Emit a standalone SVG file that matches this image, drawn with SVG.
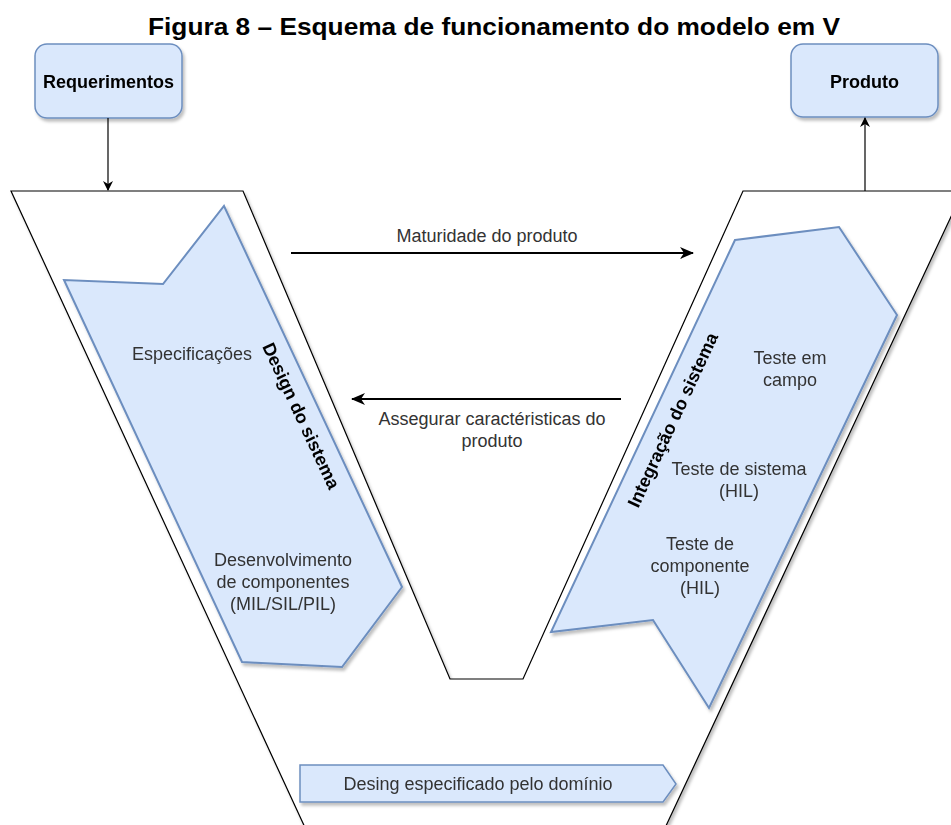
<svg xmlns="http://www.w3.org/2000/svg" width="951" height="825" viewBox="0 0 951 825">
<defs>
<style>
.box{fill:#dae8fc;stroke:#6c8ebf;stroke-width:1.5}
.blue{fill:#dae8fc;stroke:#6c8ebf;stroke-width:2}
.v{fill:#fff;stroke:#000;stroke-width:1.2}
.t{font-family:"Liberation Sans",Arial,sans-serif;font-size:18px;fill:#333;text-anchor:middle}
.b{font-family:"Liberation Sans",Arial,sans-serif;font-size:18px;font-weight:bold;fill:#000;text-anchor:middle}
.ln{stroke:#000;stroke-width:1.2;fill:none}
.ln2{stroke:#000;stroke-width:2;fill:none}
</style>
<filter id="sh" x="-10%" y="-10%" width="130%" height="130%">
<feDropShadow dx="2" dy="3" stdDeviation="1.5" flood-color="#000" flood-opacity="0.25"/>
</filter>
<marker id="ah" markerWidth="10" markerHeight="10" refX="9" refY="5" orient="auto" markerUnits="userSpaceOnUse">
<path d="M0,0 L10,5 L0,10 L3,5 Z" fill="#000"/>
</marker>
<marker id="ah2" markerWidth="14" markerHeight="12" refX="13" refY="6" orient="auto" markerUnits="userSpaceOnUse">
<path d="M0,0 L14,6 L0,12 L4,6 Z" fill="#000"/>
</marker>
</defs>
<rect width="951" height="825" fill="#fff"/>
<text x="494" y="35" font-family="Liberation Sans,Arial,sans-serif" font-size="24" font-weight="bold" text-anchor="middle" textLength="692" lengthAdjust="spacingAndGlyphs">Figura 8 – Esquema de funcionamento do modelo em V</text>

<g id="v-shape" filter="url(#sh)">
<path class="v" d="M11,191 L243,191 L450,679 L523,679 L743,191 L963,191 L650,860 L320,860 Z"/>
</g>

<g id="requerimentos" filter="url(#sh)">
<rect class="box" x="35" y="44" width="147" height="74" rx="12"/>
<text class="b" x="108.5" y="88">Requerimentos</text>
</g>
<g id="produto" filter="url(#sh)">
<rect class="box" x="791" y="44" width="147" height="73" rx="12"/>
<text class="b" x="864.5" y="88">Produto</text>
</g>

<g id="design" filter="url(#sh)">
<path class="blue" d="M224,206 L402,587 L342,667 L242,662 L64,280 L163,284 Z"/>
<text class="t" x="192" y="360">Especificações</text>
<text class="b" transform="translate(301,416) rotate(65)" x="0" y="6">Design do sistema</text>
<text class="t" x="283" y="566">Desenvolvimento</text>
<text class="t" x="283" y="588">de componentes</text>
<text class="t" x="283" y="610">(MIL/SIL/PIL)</text>
</g>

<g id="integracao" filter="url(#sh)">
<path class="blue" d="M735,240 L839,227 L897,315 L709,708 L653,620 L551,632 Z"/>
<text class="b" transform="translate(673,420) rotate(-65)" x="0" y="6">Integração do sistema</text>
<text class="t" x="790" y="364">Teste em</text>
<text class="t" x="790" y="386">campo</text>
<text class="t" x="739" y="475">Teste de sistema</text>
<text class="t" x="739" y="497">(HIL)</text>
<text class="t" x="700" y="550">Teste de</text>
<text class="t" x="700" y="572">componente</text>
<text class="t" x="700" y="594">(HIL)</text>
</g>

<g id="dominio" filter="url(#sh)">
<path class="blue" style="stroke-width:1.5" d="M300,765 L663,765 L676,784 L663,802 L300,802 Z"/>
<text class="t" x="478" y="790">Desing especificado pelo domínio</text>
</g>

<g id="connectors">
<line class="ln" x1="108" y1="118" x2="108" y2="190" marker-end="url(#ah)"/>
<line class="ln" x1="865" y1="191" x2="865" y2="118" marker-end="url(#ah)"/>
<line class="ln2" x1="291" y1="253" x2="693" y2="253" marker-end="url(#ah2)"/>
<line class="ln2" x1="621" y1="399" x2="352" y2="399" marker-end="url(#ah2)"/>
<text class="t" x="487" y="242">Maturidade do produto</text>
<text class="t" x="492" y="425">Assegurar caractéristicas do</text>
<text class="t" x="492" y="447">produto</text>
</g>
</svg>
